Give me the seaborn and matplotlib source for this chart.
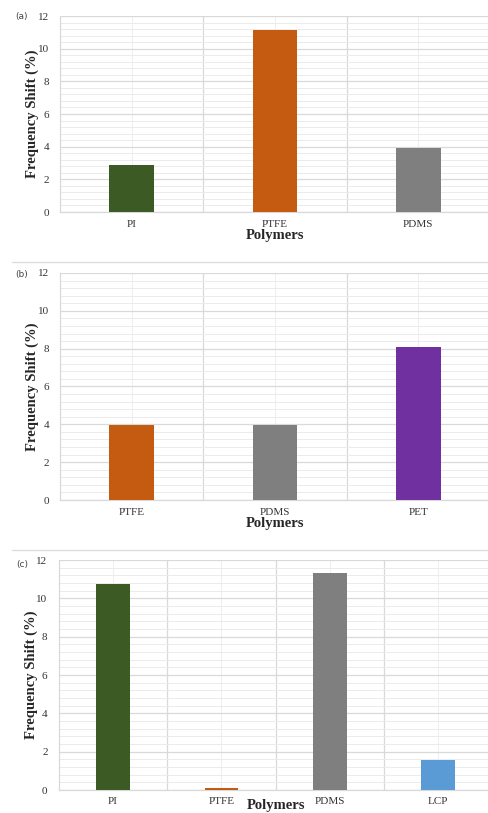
import matplotlib
matplotlib.use("Agg")
import matplotlib.pyplot as plt
from matplotlib.lines import Line2D
from matplotlib.ticker import MultipleLocator
import seaborn as sns

# Frequency shift (%) per polymer
polymers_a = ["PI", "PTFE", "PDMS"]
shift_a = [2.86, 11.14, 3.94]

polymers_b = ["PTFE", "PDMS", "PET"]
shift_b = [3.95, 3.98, 8.07]

polymers_c = ["PI", "PTFE", "PDMS", "LCP"]
shift_c = [10.76, 0.12, 11.32, 1.55]

colors = {"PI": "#3C5A24", "PTFE": "#C55A11", "PDMS": "#7F7F7F",
          "PET": "#7030A0", "LCP": "#5B9BD5"}

sns.set_theme(style="white")
plt.rcParams["font.family"] = ["Liberation Serif", "DejaVu Serif"]

W, H = 488, 813
fig = plt.figure(figsize=(W / 100, H / 100), dpi=100)


def px_axes(left, right, top, bottom):
    return fig.add_axes([left / W, (H - bottom) / H, (right - left) / W, (bottom - top) / H])


def panel(ax, cats, vals, tag, top, xpad=0, tpad=6):
    sns.barplot(x=cats, y=vals, hue=cats, palette=[colors[c] for c in cats],
                width=0.31, legend=False, ax=ax, saturation=1, zorder=3,
                linewidth=0)
    n = len(cats)
    ax.set_xlim(-0.5, n - 0.5)
    ax.set_ylim(0, 12)
    ax.yaxis.set_major_locator(MultipleLocator(2))
    ax.yaxis.set_minor_locator(MultipleLocator(0.4))
    ax.set_xticks([i + 0.5 for i in range(n - 1)], minor=True)
    ax.set_axisbelow(True)
    ax.grid(which="major", axis="y", color="#D9D9D9", lw=0.9)
    ax.grid(which="minor", axis="y", color="#EBEBEB", lw=0.7)
    ax.grid(which="minor", axis="x", color="#D9D9D9", lw=0.9)
    ax.grid(which="major", axis="x", color="#EEEEEE", lw=0.7)
    for s in ["top", "right"]:
        ax.spines[s].set_visible(False)
    for s in ["left", "bottom"]:
        ax.spines[s].set_color("#D9D9D9")
        ax.spines[s].set_linewidth(0.9)
    ax.tick_params(which="both", length=0, labelsize=8, colors="#333333")
    ax.tick_params(axis="y", pad=8)
    ax.tick_params(axis="x", pad=tpad)
    ax.set_ylabel("Frequency Shift (%)", fontsize=10.5, fontweight="bold", labelpad=-1)
    ax.set_xlabel("Polymers", fontsize=10.5, fontweight="bold", labelpad=xpad)
    fig.text(22 / W, (H - top) / H, tag, fontsize=6.5, family="DejaVu Sans",
             color="#444444", va="center", ha="center")


ax_a = px_axes(60, 490, 16, 212)
panel(ax_a, polymers_a, shift_a, "(a)", 17)
ax_b = px_axes(60, 490, 273, 500)
panel(ax_b, polymers_b, shift_b, "(b)", 274)
ax_c = px_axes(58.7, 492.5, 560, 790)
panel(ax_c, polymers_c, shift_c, "(c)", 564, xpad=-5, tpad=5)

for y in [262, 550]:
    fig.add_artist(Line2D([12 / W, 1], [(H - y) / H] * 2, color="#DDDDDD", lw=1.0))

fig.savefig("out.png", dpi=100)
